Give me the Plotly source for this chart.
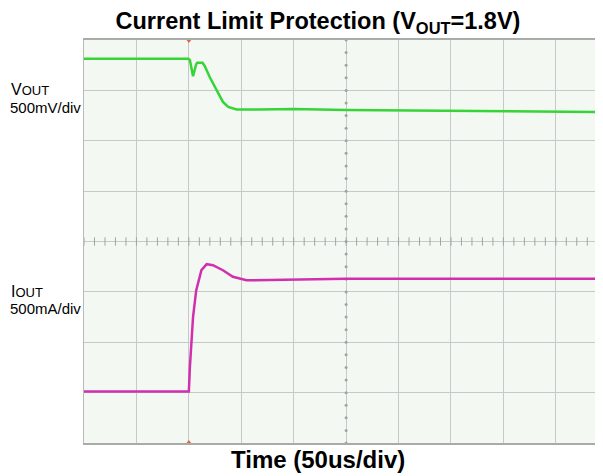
import numpy as np
import plotly.graph_objects as go

# Time in divisions (50 us/div), values in divisions
vout_t = [0.0, 1.0, 1.99, 2.02, 2.08, 2.14, 2.16, 2.26, 2.30, 2.40, 2.53, 2.65, 2.75, 2.91, 3.35, 4.0, 5.0, 6.0, 7.0, 8.0, 9.9]
vout_v = [7.63, 7.63, 7.63, 7.60, 7.28, 7.52, 7.55, 7.55, 7.49, 7.26, 7.00, 6.77, 6.67, 6.62, 6.62, 6.63, 6.61, 6.60, 6.59, 6.58, 6.57]

iout_t = [0.0, 1.0, 2.0, 2.02, 2.08, 2.14, 2.24, 2.34, 2.46, 2.65, 2.84, 3.10, 4.0, 5.0, 6.0, 7.0, 8.0, 9.9]
iout_v = [1.02, 1.02, 1.02, 1.51, 2.50, 3.03, 3.43, 3.55, 3.53, 3.43, 3.30, 3.23, 3.25, 3.26, 3.26, 3.26, 3.26, 3.26]

trigger_t = 2.0
x_divs = 9.9
y_divs = 8

grid_col = "#c6cac6"
tick_col = "#a0a4a0"

# page offset (browser body margin)
OFF = 8
W, H = 603 - OFF, 476 - OFF
ML, MR, MT, MB = 76, 0, 32, 33

fig = go.Figure()

# center graticule ticks
hx = np.arange(0, x_divs + 0.001, 0.2)
fig.add_trace(go.Scatter(x=hx, y=[y_divs / 2] * len(hx), mode="markers",
                         marker=dict(symbol="line-ns", size=6, line=dict(width=1, color=tick_col)),
                         hoverinfo="skip", showlegend=False))
vy = np.arange(0, y_divs + 0.001, 0.25)
fig.add_trace(go.Scatter(x=[5] * len(vy), y=vy, mode="markers",
                         marker=dict(symbol="circle", size=3, color=tick_col),
                         hoverinfo="skip", showlegend=False))

fig.add_trace(go.Scatter(x=vout_t, y=vout_v, mode="lines",
                         line=dict(color="#36d436", width=2.5), showlegend=False))
fig.add_trace(go.Scatter(x=iout_t, y=iout_v, mode="lines",
                         line=dict(color="#d22fae", width=2.5), showlegend=False))

# trigger markers
fig.add_trace(go.Scatter(x=[trigger_t, trigger_t], y=[y_divs, 0], mode="markers",
                         marker=dict(symbol=["triangle-down", "triangle-up"], size=6, color="#e8603c"),
                         cliponaxis=False, showlegend=False))

fig.update_xaxes(range=[0, x_divs], dtick=1, tick0=0, showgrid=True, gridcolor=grid_col, gridwidth=1,
                 showticklabels=False, ticks="", zeroline=False,
                 showline=True, linecolor="#a8aca8", linewidth=1.5, mirror=True)
fig.update_yaxes(range=[0, y_divs], dtick=1, tick0=0, showgrid=True, gridcolor=grid_col, gridwidth=1,
                 showticklabels=False, ticks="", zeroline=False,
                 showline=True, linecolor="#b8bcb8", linewidth=1)

pw, ph = W - ML - MR, H - MT - MB


def px_x(px):
    return (px - OFF - ML) / pw


def px_y(py):
    return (H - MB - (py - OFF)) / ph


fig.update_layout(
    width=W, height=H,
    margin=dict(l=ML, r=MR, t=MT, b=MB),
    paper_bgcolor="white", plot_bgcolor="#f4f8f3",
    font=dict(family="Arial, Liberation Sans, sans-serif", color="black"),
    title=dict(text="<b>Current Limit Protection (V<sub>OUT</sub>=1.8V)</b>",
               x=(318 - OFF) / W, xanchor="center", y=1 - (21 - OFF) / H, yanchor="middle",
               font=dict(size=23.5, color="black")),
    annotations=[
        dict(text="V<span style='font-size:13px'>OUT</span>", x=px_x(9), y=px_y(90), xref="paper", yref="paper",
             showarrow=False, xanchor="left", yanchor="middle", font=dict(size=16)),
        dict(text="500mV/div", x=px_x(8), y=px_y(107), xref="paper", yref="paper",
             showarrow=False, xanchor="left", yanchor="middle", font=dict(size=15)),
        dict(text="I<span style='font-size:13px'>OUT</span>", x=px_x(9), y=px_y(291), xref="paper", yref="paper",
             showarrow=False, xanchor="left", yanchor="middle", font=dict(size=16)),
        dict(text="500mA/div", x=px_x(8), y=px_y(308), xref="paper", yref="paper",
             showarrow=False, xanchor="left", yanchor="middle", font=dict(size=15)),
        dict(text="<b>Time (50us/div)</b>", x=px_x(318), y=px_y(459), xref="paper", yref="paper",
             showarrow=False, xanchor="center", yanchor="middle", font=dict(size=24)),
    ],
)

fig.write_html("out.html")
